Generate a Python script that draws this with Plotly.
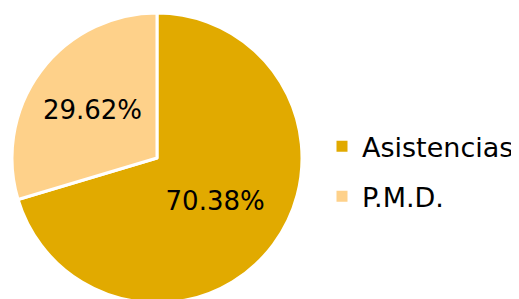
import plotly.graph_objects as go

labels = ["Asistencias", "P.M.D."]
values = [70.38, 29.62]
colors = ["#E1AA00", "#FED18A"]

FONT = "DejaVu Sans, Arial, sans-serif"

fig = go.Figure(go.Pie(
    labels=labels,
    values=values,
    sort=False,
    direction="clockwise",
    rotation=0,
    marker=dict(colors=colors, line=dict(color="white", width=3)),
    texttemplate="%{percent:.2%}",
    textposition="inside",
    insidetextorientation="horizontal",
    textfont=dict(family=FONT, size=26, color="black"),
    domain=dict(x=[4/519, 294/519], y=[0, 1]),
    hoverinfo="label+percent",
    showlegend=False,
))

# legend entries
for lab, col in zip(labels, colors):
    fig.add_trace(go.Scatter(
        x=[None], y=[None], mode="markers", name=lab, legendgroup=lab,
        marker=dict(symbol="square", size=11, color=col),
        showlegend=True, hoverinfo="skip",
    ))

fig.update_layout(
    width=519, height=299,
    margin=dict(l=0, r=0, t=5, b=4),
    paper_bgcolor="white",
    plot_bgcolor="white",
    xaxis=dict(visible=False),
    yaxis=dict(visible=False),
    legend=dict(
        x=314/519, y=0.453, xanchor="left", yanchor="middle",
        tracegroupgap=12,
        font=dict(family=FONT, size=27, color="black"),
    ),
)

fig.write_html("out.html")
